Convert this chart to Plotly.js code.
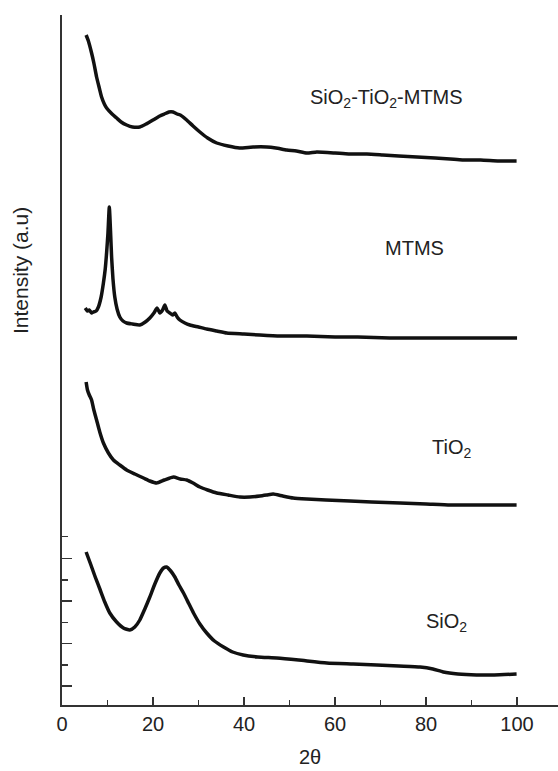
<!DOCTYPE html>
<html>
<head>
<meta charset="utf-8">
<script src="https://cdn.plot.ly/plotly-3.0.1.min.js"></script>
<style>html,body{margin:0;padding:0;background:#fff;}#chart{width:558px;height:771px;}</style>
</head>
<body>
<div id="chart"></div>
<script>
// 2θ (degrees) and stacked intensity (arbitrary units, offset per curve)
var x_stm = [5.3, 5.8, 6.5, 7.0, 7.6, 8.2, 8.7, 9.3, 9.8, 11, 12, 13, 14.2, 15.5, 17.1, 18.5, 20, 21.5, 22.5, 23.5, 24.4, 25.3, 26, 27.4, 28.8, 30.3, 32, 34, 36.5, 39, 42, 45, 47, 49.4, 51.5, 53.8, 56, 60, 63, 67, 70.5, 74, 78, 82, 85.3, 88, 92, 96, 99.9];
var y_stm = [670, 664, 652, 642, 628, 617, 608, 601, 597, 591, 587, 583, 580, 578, 578, 581, 585, 589, 591, 593, 593, 591, 590, 585, 579, 573, 567, 562, 559, 557, 558, 558, 557, 555, 554, 552, 553, 552, 551, 551, 550, 549, 548, 547, 546, 545, 545, 544, 544];

var x_mtms = [5.1, 5.6, 6.0, 6.5, 6.9, 7.5, 8.0, 8.6, 9.1, 9.5, 9.8, 10.1, 10.4, 10.7, 10.9, 11.2, 11.6, 12.1, 12.7, 13.4, 14.2, 15.5, 17.1, 18.3, 19.3, 20.2, 20.9, 21.5, 22.1, 22.6, 23.1, 23.7, 24.3, 24.8, 25.3, 25.9, 27, 28.1, 30, 31.8, 34, 36.2, 40, 43.5, 48, 53.8, 60, 65, 72, 80, 90, 100];
var y_mtms = [397, 394, 395, 392, 393, 394, 398, 408, 422, 436, 452, 472, 498, 470, 448, 426, 408, 396, 388, 384, 382, 381, 380, 383, 387, 392, 397, 392, 395, 400, 394, 392, 390, 392, 388, 385, 382, 380, 378, 376, 374, 372, 371, 370, 369, 369, 368, 368, 367, 367, 367, 367];

var x_tio2 = [5.3, 5.6, 6.0, 6.5, 7.0, 7.6, 8.3, 9.1, 10.2, 11.3, 12.7, 14.2, 16, 17.9, 19.3, 20.8, 22.5, 24.5, 26, 27.4, 28.8, 30.3, 32, 34, 36.5, 39.1, 41.3, 43.5, 45, 46.4, 48.5, 50.8, 53.8, 58, 63.3, 68, 74.3, 80, 85.3, 92, 99.9];
var y_tio2 = [323, 315, 310, 305, 295, 285, 273, 262, 252, 245, 240, 235, 231, 227, 224, 222, 225, 228, 226, 225, 222, 218, 215, 212, 210, 208, 208, 209, 210, 211, 209, 207, 206, 205, 204, 203, 202, 201, 200, 200, 200];

var x_sio2 = [5.3, 6.2, 7.3, 8.4, 9.4, 10.5, 12, 13.5, 14.9, 16, 17.1, 18.2, 19.3, 20.4, 21.5, 22.3, 23, 23.9, 24.8, 25.7, 26.7, 27.8, 28.9, 30.3, 31.8, 33.5, 35.5, 37.5, 39.8, 43, 47.2, 52, 58.2, 64, 69.2, 74, 78.7, 81.5, 83.8, 87, 91.1, 95, 99.9];
var y_sio2 = [153, 142, 128, 115, 103, 92, 83, 77, 75, 78, 85, 96, 108, 121, 132, 137, 138, 134, 128, 120, 112, 102, 92, 81, 72, 64, 58, 53, 50, 48, 47, 45, 42, 41, 40, 39, 38, 36, 33, 31, 30, 30, 31];

var sampleNames = ["SiO<sub>2</sub>-TiO<sub>2</sub>-MTMS", "MTMS", "TiO<sub>2</sub>", "SiO<sub>2</sub>"];
var labelX = [71.4, 77.4, 85.5, 84.6];
var labelY = [607, 457, 257, 83];

var xTicks = [0, 20, 40, 60, 80, 100];
var xMinorTicks = [10, 30, 50, 70, 90];
var yTicks = [19, 61.7, 104, 146.7];
var yMinorTicks = [40, 82.7, 125, 168.3];

var lineStyle = {color: '#111', width: 3.5, shape: 'spline', smoothing: 0.5};
var traces = [
  {x: x_stm, y: y_stm},
  {x: x_mtms, y: y_mtms},
  {x: x_tio2, y: y_tio2},
  {x: x_sio2, y: y_sio2}
].map(function(t){ return {x: t.x, y: t.y, type: 'scatter', mode: 'lines', line: lineStyle, hoverinfo: 'skip'}; });

var fam = '"Liberation Sans", Arial, sans-serif';
var annotations = sampleNames.map(function(n, i){
  return {x: labelX[i], y: labelY[i], xref: 'x', yref: 'y', text: n, showarrow: false,
          xanchor: 'center', yanchor: 'middle',
          font: {family: fam, color: '#222', size: 20}};
});
annotations.push({x: -42/496, y: (705-271)/690, xref: 'x domain', yref: 'y domain',
  xanchor: 'center', yanchor: 'middle', text: 'Intensity (a.u)', showarrow: false,
  textangle: -90, font: {family: fam, color: '#222', size: 21}});

var layout = {
  width: 558, height: 771,
  margin: {l: 62, r: 0, t: 15, b: 66},
  paper_bgcolor: '#fff', plot_bgcolor: '#fff',
  showlegend: false,
  font: {family: fam, color: '#222'},
  xaxis: {
    range: [0, 109], tickmode: 'array', tickvals: xTicks, ticktext: xTicks.map(String),
    ticks: 'inside', ticklen: 8, tickwidth: 1.5, tickcolor: '#333',
    minor: {tickmode: 'array', tickvals: xMinorTicks, ticks: 'inside', ticklen: 5, tickwidth: 1.5, tickcolor: '#333'},
    showline: true, linecolor: '#333', linewidth: 2, showgrid: false, zeroline: false,
    tickfont: {size: 20, color: '#222'},
    title: {text: '2θ', font: {size: 20, color: '#222'}, standoff: 16}
  },
  yaxis: {
    range: [0, 690], tickmode: 'array', tickvals: yTicks, showticklabels: false,
    ticks: 'inside', ticklen: 10, tickwidth: 1.5, tickcolor: '#333',
    minor: {tickmode: 'array', tickvals: yMinorTicks, ticks: 'inside', ticklen: 6, tickwidth: 1.5, tickcolor: '#333'},
    showline: true, linecolor: '#333', linewidth: 2, showgrid: false, zeroline: false
  },
  annotations: annotations
};

Plotly.newPlot('chart', traces, layout, {displayModeBar: false, staticPlot: true});
</script>
</body>
</html>
